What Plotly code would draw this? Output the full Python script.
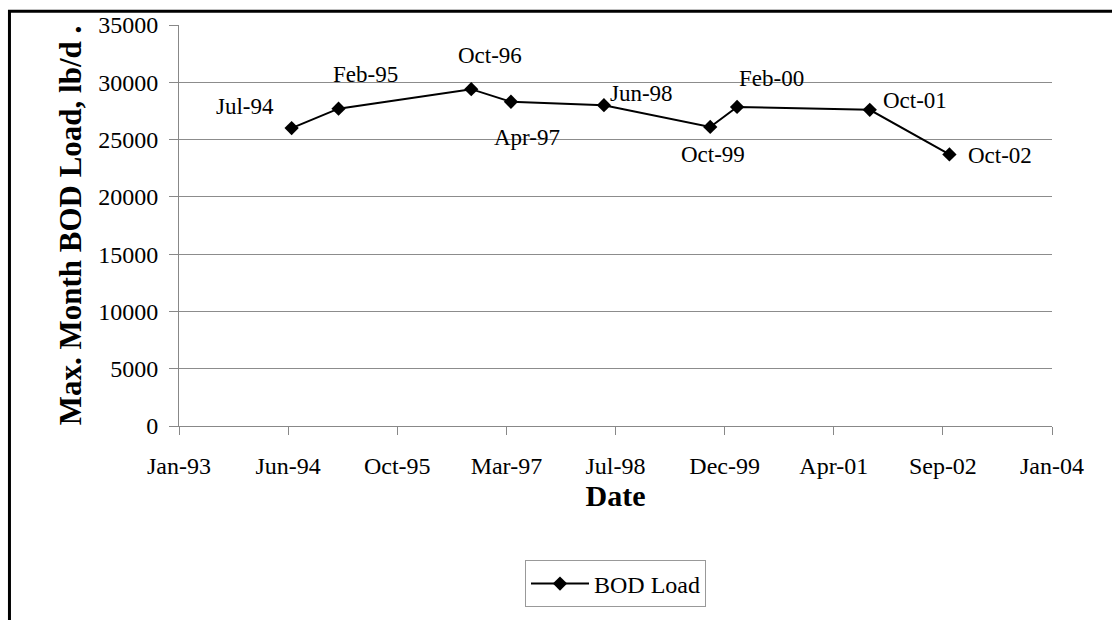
import plotly.graph_objects as go

# ---- data ----
dates = ["1994-07-01", "1995-02-01", "1996-10-01", "1997-04-01", "1998-06-01",
         "1999-10-01", "2000-02-01", "2001-10-01", "2002-10-01"]
bod_load = [26000, 27700, 29400, 28300, 28000, 26100, 27850, 27600, 23700]
point_labels = ["Jul-94", "Feb-95", "Oct-96", "Apr-97", "Jun-98",
                "Oct-99", "Feb-00", "Oct-01", "Oct-02"]
series_name = "BOD Load"
y_title = "Max. Month BOD Load, lb/d ."
x_title = "Date"

# label offsets (px) relative to each point: style only
label_dx = [-47, 27, 19, 16, 38, 3, 34, 45, 51]
label_dy = [22, 34, 34, -36, 12, -28, 28, 9, -1]

FONT = "Times New Roman, Liberation Serif, serif"

fig = go.Figure()
fig.add_trace(go.Scatter(
    x=dates, y=bod_load, mode="lines+markers", name=series_name,
    line=dict(color="black", width=2),
    marker=dict(symbol="diamond", size=11, color="black"),
))

for d, v, t, dx, dy in zip(dates, bod_load, point_labels, label_dx, label_dy):
    fig.add_annotation(x=d, y=v, text=t, showarrow=False, xshift=dx, yshift=dy,
                       xanchor="center", yanchor="middle",
                       font=dict(family=FONT, size=23, color="black"))

# outer frame (partial, as in the scan)
x0, xr, yt, yb = -0.1942, 1.07, 1.0342, -0.5
fig.add_shape(type="path", xref="paper", yref="paper",
              path=f"M {x0},{yb} L {x0},{yt} L {xr},{yt}",
              line=dict(color="black", width=3))

fig.update_layout(
    width=1112, height=620,
    margin=dict(l=179, r=60, t=25, b=186),
    paper_bgcolor="white", plot_bgcolor="white",
    font=dict(family=FONT, color="black"),
    showlegend=True,
    legend=dict(x=0.5, y=-0.394, xanchor="center", yanchor="middle",
                orientation="h", bordercolor="#999999", borderwidth=1,
                font=dict(family=FONT, size=24, color="black"),
                bgcolor="white", itemwidth=58),
    xaxis=dict(
        type="date", range=["1993-01-31", "2004-01-14"],
        tick0="1993-01-31", dtick=500 * 86400000, tickformat="%b-%y",
        showgrid=False, showline=True, linecolor="#888888", linewidth=1,
        ticks="outside", ticklen=8, tickcolor="#888888",
        tickfont=dict(family=FONT, size=24, color="black"),
        ticklabelstandoff=10,
        title=dict(text=f"<b>{x_title}</b>", font=dict(family=FONT, size=30, color="black"),
                   standoff=4),
        zeroline=False,
    ),
    yaxis=dict(
        range=[0, 35000], dtick=5000, tick0=0, tickformat="d",
        showgrid=True, gridcolor="#8c8c8c", gridwidth=1,
        showline=True, linecolor="#888888", linewidth=1,
        ticks="outside", ticklen=9, tickcolor="#888888",
        tickfont=dict(family=FONT, size=24, color="black"),
        ticklabelstandoff=6,
        title=dict(text=f"<b>{y_title}</b>", font=dict(family=FONT, size=31, color="black"),
                   standoff=7),
        zeroline=False,
    ),
)

fig.write_html("out.html", config={"displayModeBar": False},
               post_script="document.body.style.margin='0';")
